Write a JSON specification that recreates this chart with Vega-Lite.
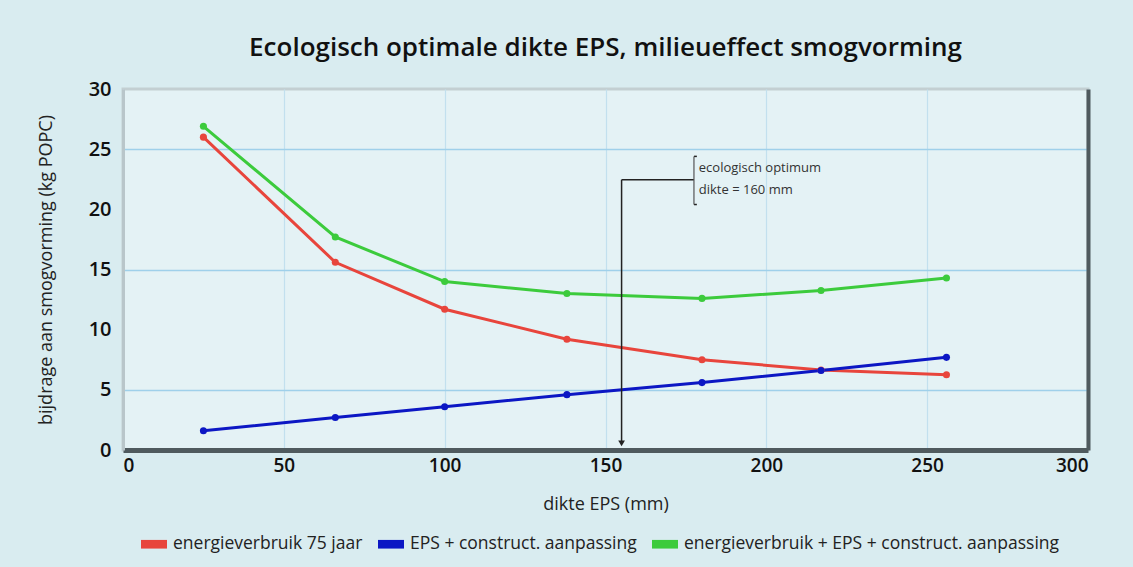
{
  "$schema": "https://vega.github.io/schema/vega-lite/v6.json",
  "autosize": {"type": "none"},
  "width": 965,
  "height": 361,
  "padding": {"left": 123, "top": 89, "right": 45, "bottom": 117},
  "background": "#d9ecf0",
  "config": {
    "font": "Open Sans",
    "view": {"fill": "#e4f2f5", "stroke": "#c3cfd2", "strokeWidth": 3}
  },
  "title": {
    "text": "Ecologisch optimale dikte EPS, milieueffect smogvorming",
    "font": "Open Sans",
    "fontSize": 26,
    "fontWeight": 600,
    "color": "#111111",
    "anchor": "middle",
    "offset": 18
  },
  "datasets": {
    "series": [
      {"x": 25, "y": 26.0, "serie": "energieverbruik 75 jaar"},
      {"x": 66, "y": 15.6, "serie": "energieverbruik 75 jaar"},
      {"x": 100, "y": 11.7, "serie": "energieverbruik 75 jaar"},
      {"x": 138, "y": 9.2, "serie": "energieverbruik 75 jaar"},
      {"x": 180, "y": 7.5, "serie": "energieverbruik 75 jaar"},
      {"x": 217, "y": 6.65, "serie": "energieverbruik 75 jaar"},
      {"x": 256, "y": 6.25, "serie": "energieverbruik 75 jaar"},
      {"x": 25, "y": 26.9, "serie": "energieverbruik + EPS + construct. aanpassing"},
      {"x": 66, "y": 17.7, "serie": "energieverbruik + EPS + construct. aanpassing"},
      {"x": 100, "y": 14.0, "serie": "energieverbruik + EPS + construct. aanpassing"},
      {"x": 138, "y": 13.0, "serie": "energieverbruik + EPS + construct. aanpassing"},
      {"x": 180, "y": 12.6, "serie": "energieverbruik + EPS + construct. aanpassing"},
      {"x": 217, "y": 13.25, "serie": "energieverbruik + EPS + construct. aanpassing"},
      {"x": 256, "y": 14.3, "serie": "energieverbruik + EPS + construct. aanpassing"},
      {"x": 25, "y": 1.6, "serie": "EPS + construct. aanpassing"},
      {"x": 66, "y": 2.7, "serie": "EPS + construct. aanpassing"},
      {"x": 100, "y": 3.6, "serie": "EPS + construct. aanpassing"},
      {"x": 138, "y": 4.6, "serie": "EPS + construct. aanpassing"},
      {"x": 180, "y": 5.6, "serie": "EPS + construct. aanpassing"},
      {"x": 217, "y": 6.6, "serie": "EPS + construct. aanpassing"},
      {"x": 256, "y": 7.7, "serie": "EPS + construct. aanpassing"}
    ]
  },
  "layer": [
    {
      "data": {"values": [{"y": 0}]},
      "mark": {"type": "point", "opacity": 0},
      "encoding": {
        "y": {
          "field": "y", "type": "quantitative",
          "scale": {"domain": [0, 30], "nice": false},
          "axis": {
            "orient": "right", "values": [5, 15, 25], "grid": true,
            "gridColor": "#9fd0ea", "gridWidth": 1.5, "gridOpacity": 1,
            "labels": false, "ticks": false, "title": null,
            "domain": true, "domainColor": "#4f5a5e", "domainWidth": 4
          }
        }
      }
    },
    {
      "data": {"name": "series"},
      "mark": {"type": "line", "strokeWidth": 3, "point": {"filled": true, "size": 50, "opacity": 1}},
      "encoding": {
        "x": {
          "field": "x", "type": "quantitative",
          "scale": {"domain": [0, 300], "nice": false},
          "axis": {
            "values": [0, 50, 100, 150, 200, 250, 300],
            "title": "dikte EPS (mm)",
            "titleFont": "Open Sans", "titleFontSize": 18, "titleFontWeight": "normal", "titleColor": "#222222", "titlePadding": 20,
            "labelFont": "Open Sans", "labelFontSize": 19, "labelFontWeight": 600, "labelColor": "#111111", "labelPadding": 6,
            "ticks": false, "grid": true, "gridColor": "#c2e0ee", "gridWidth": 1.2,
            "domainColor": "#4f5a5e", "domainWidth": 5
          }
        },
        "y": {
          "field": "y", "type": "quantitative",
          "scale": {"domain": [0, 30], "nice": false},
          "axis": {
            "orient": "left",
            "values": [0, 5, 10, 15, 20, 25, 30],
            "title": "bijdrage aan smogvorming (kg POPC)",
            "titleFont": "Open Sans", "titleFontSize": 18, "titleFontWeight": "normal", "titleColor": "#222222", "titlePadding": 33,
            "labelFont": "Open Sans", "labelFontSize": 20, "labelFontWeight": 600, "labelColor": "#111111", "labelPadding": 12,
            "ticks": false, "grid": false,
            "domainColor": "#b9c6ca", "domainWidth": 3
          }
        },
        "color": {
          "field": "serie", "type": "nominal",
          "scale": {
            "domain": ["energieverbruik 75 jaar", "EPS + construct. aanpassing", "energieverbruik + EPS + construct. aanpassing"],
            "range": ["#e8453c", "#0c17c4", "#3ccb3c"]
          },
          "legend": {
            "title": null, "orient": "none", "direction": "horizontal",
            "legendX": 22, "legendY": 446,
            "symbolType": "M-1.5,-0.5H1.5V0.5H-1.5Z", "symbolSize": 300, "symbolStrokeWidth": 0,
            "symbolOpacity": 1,
            "labelFont": "Open Sans", "labelFontSize": 17.5, "labelColor": "#222222",
            "labelOffset": 10, "columnPadding": 15, "labelLimit": 600
          }
        },
        "order": {"field": "x", "type": "quantitative"}
      }
    },
    {
      "data": {"values": [{"x": 155, "y": 22.45, "y2": 0.6}]},
      "mark": {"type": "rule", "color": "#222222", "strokeWidth": 1.5},
      "encoding": {
        "x": {"field": "x", "type": "quantitative"},
        "y": {"field": "y", "type": "quantitative", "axis": null},
        "y2": {"field": "y2"}
      }
    },
    {
      "data": {"values": [{"x": 155, "y": 0.55}]},
      "mark": {"type": "point", "shape": "triangle-down", "filled": true, "color": "#222222", "size": 45, "opacity": 1},
      "encoding": {
        "x": {"field": "x", "type": "quantitative"},
        "y": {"field": "y", "type": "quantitative", "axis": null}
      }
    },
    {
      "data": {"values": [
        {"x": 155, "x2": 177.5, "y": 22.45},
        {"x": 177.5, "x2": 178.4, "y": 24.4},
        {"x": 177.5, "x2": 178.4, "y": 20.4}
      ]},
      "mark": {"type": "rule", "color": "#222222", "strokeWidth": 1.5},
      "encoding": {
        "x": {"field": "x", "type": "quantitative"},
        "x2": {"field": "x2"},
        "y": {"field": "y", "type": "quantitative", "axis": null}
      }
    },
    {
      "data": {"values": [{"x": 177.5, "y": 24.4, "y2": 20.4}]},
      "mark": {"type": "rule", "color": "#555555", "strokeWidth": 1.2},
      "encoding": {
        "x": {"field": "x", "type": "quantitative"},
        "y": {"field": "y", "type": "quantitative", "axis": null},
        "y2": {"field": "y2"}
      }
    },
    {
      "data": {"values": [
        {"x": 179, "y": 23.4, "label": "ecologisch optimum"},
        {"x": 179, "y": 21.6, "label": "dikte = 160 mm"}
      ]},
      "mark": {"type": "text", "align": "left", "baseline": "middle", "font": "Open Sans", "fontSize": 13, "color": "#333333"},
      "encoding": {
        "x": {"field": "x", "type": "quantitative"},
        "y": {"field": "y", "type": "quantitative", "axis": null},
        "text": {"field": "label"}
      }
    }
  ]
}
